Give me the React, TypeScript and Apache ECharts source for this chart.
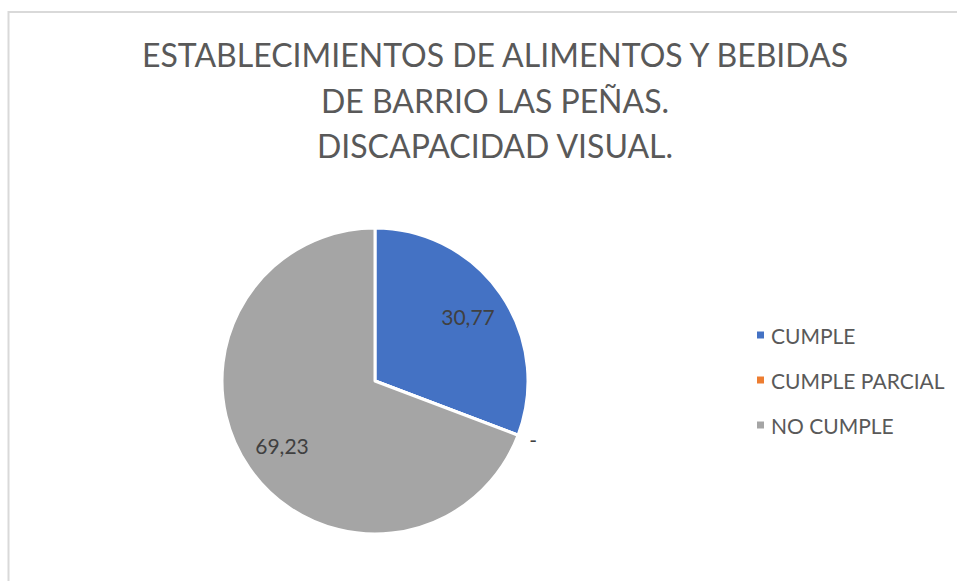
import React, { useEffect, useRef } from "react";
import * as echarts from "echarts";

const titleLines = [
  "ESTABLECIMIENTOS DE ALIMENTOS Y BEBIDAS",
  "DE BARRIO LAS PEÑAS.",
  "DISCAPACIDAD VISUAL.",
];
const categories = ["CUMPLE", "CUMPLE PARCIAL", "NO CUMPLE"];
const values = [30.77, 0, 69.23];
const colors = ["#4472C4", "#ED7D31", "#A5A5A5"];

const FONT = "Lato, 'Open Sans', sans-serif";

const fmt = (v: number) => (v === 0 ? "-" : v.toFixed(2).replace(".", ","));

export default function App() {
  const ref = useRef<HTMLDivElement>(null);
  useEffect(() => {
    if (!ref.current) return;
    const chart = echarts.init(ref.current, undefined, { renderer: "svg" });
    const center = [375, 381];
    const mainData = categories.map((name, i) => ({
      name,
      value: values[i],
      itemStyle: { color: colors[i] },
      label:
        values[i] === 0
          ? { show: true, position: "outside" as const }
          : { show: false },
    }));
    const labelData = categories.map((name, i) => ({
      name,
      value: values[i],
      label: { show: values[i] !== 0 },
    }));
    chart.setOption({
      animation: false,
      backgroundColor: "#ffffff",
      title: {
        text: titleLines.join("\n"),
        left: 490,
        top: 27,
        textAlign: "center",
        textStyle: {
          fontFamily: FONT,
          fontSize: 32,
          fontWeight: "normal",
          color: "#595959",
          lineHeight: 45.5,
        },
      },
      legend: {
        orient: "vertical",
        left: 750,
        top: 318,
        itemWidth: 9,
        itemHeight: 9,
        itemGap: 21,
        icon: "rect",
        data: categories,
        textStyle: {
          fontFamily: FONT,
          fontSize: 21,
          color: "#595959",
          lineHeight: 24,
          padding: [0, 0, 0, 1],
        },
      },
      graphic: [
        {
          type: "rect",
          shape: { x: 8.5, y: 12, width: 1200, height: 1000 },
          style: { fill: "none", stroke: "#d9d9d9", lineWidth: 2 },
          silent: true,
        },
      ],
      series: [
        {
          type: "pie",
          center,
          radius: [0, 153],
          startAngle: 90,
          clockwise: true,
          avoidLabelOverlap: false,
          itemStyle: { borderColor: "#ffffff", borderWidth: 3 },
          label: {
            formatter: (p: any) => fmt(p.value),
            fontFamily: FONT,
            fontSize: 21,
            color: "#404040",
            distanceToLabelLine: 0,
          },
          labelLine: { show: false, length: 12, length2: 0 },
          emphasis: { disabled: true },
          data: mainData,
        },
        {
          type: "pie",
          center,
          radius: [0, 220],
          startAngle: 90,
          clockwise: true,
          silent: true,
          avoidLabelOverlap: false,
          itemStyle: { color: "rgba(0,0,0,0)" },
          label: {
            position: "inside",
            formatter: (p: any) => fmt(p.value),
            fontFamily: FONT,
            fontSize: 21,
            color: "#404040",
          },
          labelLine: { show: false },
          emphasis: { disabled: true },
          tooltip: { show: false },
          data: labelData,
        },
      ],
    });
    return () => chart.dispose();
  }, []);
  return (
    <div
      ref={ref}
      style={{ position: "fixed", left: 0, top: 0, width: 957, height: 581 }}
    />
  );
}
